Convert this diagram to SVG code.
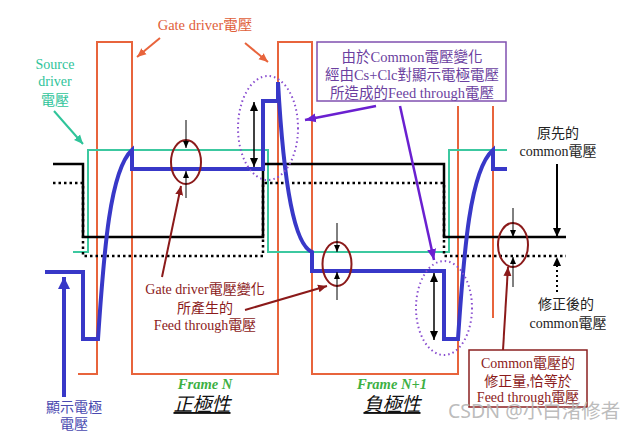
<svg xmlns="http://www.w3.org/2000/svg" width="635" height="431" viewBox="0 0 635 431">
<defs>
<style>
.t{font-family:"Liberation Serif","Noto Sans CJK TC",serif;text-anchor:middle}
.gate{fill:none;stroke:#e8643c;stroke-width:2}
.src{fill:none;stroke:#3cc8a0;stroke-width:2}
.com{fill:none;stroke:#000;stroke-width:2.5}
.comd{fill:none;stroke:#000;stroke-width:2.5;stroke-dasharray:2.5 3}
.pix{fill:none;stroke:#3838c8;stroke-width:4;stroke-linejoin:miter}
.ell{fill:none;stroke:#8b1a1a;stroke-width:2}
.pell{fill:none;stroke:#8a4fd0;stroke-width:2;stroke-dasharray:1.5 3}
.thin{stroke:#000;stroke-width:1;marker-end:url(#ak)}
</style>
<marker id="ak" markerUnits="userSpaceOnUse" markerWidth="8" markerHeight="8" refX="7" refY="4" orient="auto"><path d="M0,1 L7,4 L0,7 Z" fill="#000"/></marker>
<marker id="akb" markerUnits="userSpaceOnUse" markerWidth="10" markerHeight="10" refX="9" refY="5" orient="auto"><path d="M0,1 L9,5 L0,9 Z" fill="#000"/></marker>
<marker id="akbs" markerUnits="userSpaceOnUse" markerWidth="10" markerHeight="10" refX="1" refY="5" orient="auto"><path d="M10,1 L1,5 L10,9 Z" fill="#000"/></marker>
<marker id="ar" markerUnits="userSpaceOnUse" markerWidth="10" markerHeight="10" refX="9" refY="5" orient="auto"><path d="M0,1 L9,5 L0,9 Z" fill="#8b1a1a"/></marker>
<marker id="ap" markerUnits="userSpaceOnUse" markerWidth="12" markerHeight="12" refX="11" refY="6" orient="auto"><path d="M0,1.5 L11,6 L0,10.5 Z" fill="#6a20d0"/></marker>
<marker id="ao" markerUnits="userSpaceOnUse" markerWidth="10" markerHeight="10" refX="9" refY="5" orient="auto"><path d="M0,1 L9,5 L0,9 Z" fill="#e8643c"/></marker>
<marker id="at" markerUnits="userSpaceOnUse" markerWidth="10" markerHeight="10" refX="9" refY="5" orient="auto"><path d="M0,1 L9,5 L0,9 Z" fill="#2fc49a"/></marker>
<marker id="abl" markerUnits="userSpaceOnUse" markerWidth="14" markerHeight="14" refX="12" refY="7" orient="auto"><path d="M0,1 L12,7 L0,13 Z" fill="#3838c8"/></marker>
</defs>
<rect width="635" height="431" fill="#fff"/>

<g id="waveforms">
<path id="gate-wave" class="gate" d="M78,374 H97 V42 H132 V374 H278 V42 H312 V374 H458 V106 M493,106 V318"/>
<path id="source-wave" class="src" d="M73,252 H88 V150 H268 V252 H449 V150 H507"/>
<path id="common-wave" class="com" d="M53,164 H83 V237 H263 V164 H444 V237 H566"/>
<path id="common-fixed" class="comd" d="M53,183 H83 V256 H263 V183 H444 V256 H566"/>
<path id="pixel-wave" class="pix" d="M45,272 H83 V339 H98 C104,250 110,170 132,150 V169 H263 V101 H278 V82 C284,190 295,245 312,252 V271 H444 V339 H458 C464,250 470,170 493,150 V169 H507"/>
</g>

<g id="ellipses">
<ellipse cx="186" cy="162" rx="15" ry="22" class="ell"/>
<ellipse cx="337" cy="264" rx="14.5" ry="22" class="ell"/>
<ellipse cx="513" cy="245" rx="15" ry="22" class="ell"/>
<ellipse cx="268" cy="128" rx="30" ry="52" class="pell"/>
<ellipse cx="444" cy="308" rx="28" ry="47" class="pell"/>
</g>

<g id="connectors">
<line x1="186" y1="120" x2="186" y2="148" class="thin"/>
<line x1="186" y1="198" x2="186" y2="171" class="thin"/>
<line x1="337" y1="223" x2="337" y2="252" class="thin"/>
<line x1="337" y1="300" x2="337" y2="272" class="thin"/>
<line x1="513" y1="208" x2="513" y2="237" class="thin"/>
<line x1="513" y1="287" x2="513" y2="257" class="thin"/>
<line x1="254" y1="102" x2="254" y2="167" stroke="#000" stroke-width="1.5" marker-start="url(#akbs)" marker-end="url(#akb)"/>
<line x1="434" y1="273" x2="434" y2="340" stroke="#000" stroke-width="1.5" marker-start="url(#akbs)" marker-end="url(#akb)"/>
<line x1="557" y1="164" x2="557" y2="237" stroke="#000" stroke-width="2" marker-end="url(#akb)"/>
<line x1="557" y1="292" x2="557" y2="257" stroke="#000" stroke-width="2" stroke-dasharray="2 3" marker-end="url(#akb)"/>
<line x1="162" y1="277" x2="181" y2="186" stroke="#8b1a1a" stroke-width="2" marker-end="url(#ar)"/>
<line x1="245" y1="310" x2="327" y2="286" stroke="#8b1a1a" stroke-width="2" marker-end="url(#ar)"/>
<line x1="503" y1="350" x2="508" y2="267" stroke="#8b1a1a" stroke-width="2" marker-end="url(#ar)"/>
<line x1="376" y1="106" x2="305" y2="120" stroke="#6a20d0" stroke-width="2.5" marker-end="url(#ap)"/>
<line x1="400" y1="106" x2="434" y2="260" stroke="#6a20d0" stroke-width="2.5" marker-end="url(#ap)"/>
<line x1="160" y1="38" x2="137" y2="57" stroke="#e8643c" stroke-width="2" marker-end="url(#ao)"/>
<line x1="245" y1="43" x2="268" y2="62" stroke="#e8643c" stroke-width="2" marker-end="url(#ao)"/>
<line x1="54" y1="111" x2="83" y2="144" stroke="#2fc49a" stroke-width="2" marker-end="url(#at)"/>
<line x1="64" y1="397" x2="64" y2="277" stroke="#3838c8" stroke-width="4" marker-end="url(#abl)"/>
</g>

<g id="label-gate">
<text class="t" x="205" y="30" font-size="14.5" fill="#e0603a">Gate driver電壓</text>
</g>
<g id="label-source">
<text class="t" x="55" y="69" font-size="14" fill="#2fc49a">Source</text>
<text class="t" x="55" y="86" font-size="14" fill="#2fc49a">driver</text>
<text class="t" x="55" y="105" font-size="14" fill="#2fc49a">電壓</text>
</g>
<g id="box-purple">
<rect x="317" y="42" width="189" height="59" fill="#fff" stroke="#8050b0" stroke-width="1.5"/>
<text class="t" x="412" y="62" font-size="14.5" fill="#6b3fa0">由於Common電壓變化</text>
<text class="t" x="412" y="80" font-size="14.5" fill="#6b3fa0">經由Cs+Clc對顯示電極電壓</text>
<text class="t" x="412" y="98" font-size="14.5" fill="#6b3fa0">所造成的Feed through電壓</text>
</g>
<g id="label-orig-common">
<text class="t" x="558" y="138" font-size="14" fill="#222">原先的</text>
<text class="t" x="558" y="156" font-size="14" fill="#222">common電壓</text>
</g>
<g id="label-fixed-common">
<text class="t" x="566" y="309" font-size="14" fill="#222">修正後的</text>
<text class="t" x="568" y="328" font-size="14" fill="#222">common電壓</text>
</g>
<g id="label-feedthrough">
<text class="t" x="205" y="294" font-size="14" fill="#8b1a1a">Gate driver電壓變化</text>
<text class="t" x="205" y="313" font-size="14" fill="#8b1a1a">所產生的</text>
<text class="t" x="205" y="330" font-size="14" fill="#8b1a1a">Feed through電壓</text>
</g>
<g id="box-red">
<rect x="469" y="350" width="118" height="57" fill="#fff" stroke="#8b2020" stroke-width="1.5"/>
<text class="t" x="528" y="368" font-size="14" fill="#8b1a1a">Common電壓的</text>
<text class="t" x="528" y="386" font-size="14" fill="#8b1a1a">修正量,恰等於</text>
<text class="t" x="528" y="402" font-size="14" fill="#8b1a1a">Feed through電壓</text>
</g>
<g id="label-pixel">
<text class="t" x="74" y="412" font-size="14" fill="#4a4ab0">顯示電極</text>
<text class="t" x="74" y="429" font-size="14" fill="#4a4ab0">電壓</text>
</g>
<g id="label-frames">
<text class="t" x="205" y="389" font-size="14.5" font-style="italic" font-weight="bold" fill="#3cb043">Frame N</text>
<text class="t" x="202" y="411" font-size="19" font-style="italic" fill="#111" text-decoration="underline">正極性</text>
<text class="t" x="392" y="389" font-size="14.5" font-style="italic" font-weight="bold" fill="#3cb043">Frame N+1</text>
<text class="t" x="392" y="411" font-size="19" font-style="italic" fill="#111" text-decoration="underline">負極性</text>
</g>
<g id="watermark">
<text x="448" y="418" font-family="'Noto Sans','Noto Sans CJK SC',sans-serif" font-size="19.5" fill="#b4b4b4" fill-opacity="0.9">CSDN @小白渚修者</text>
</g>
</svg>
